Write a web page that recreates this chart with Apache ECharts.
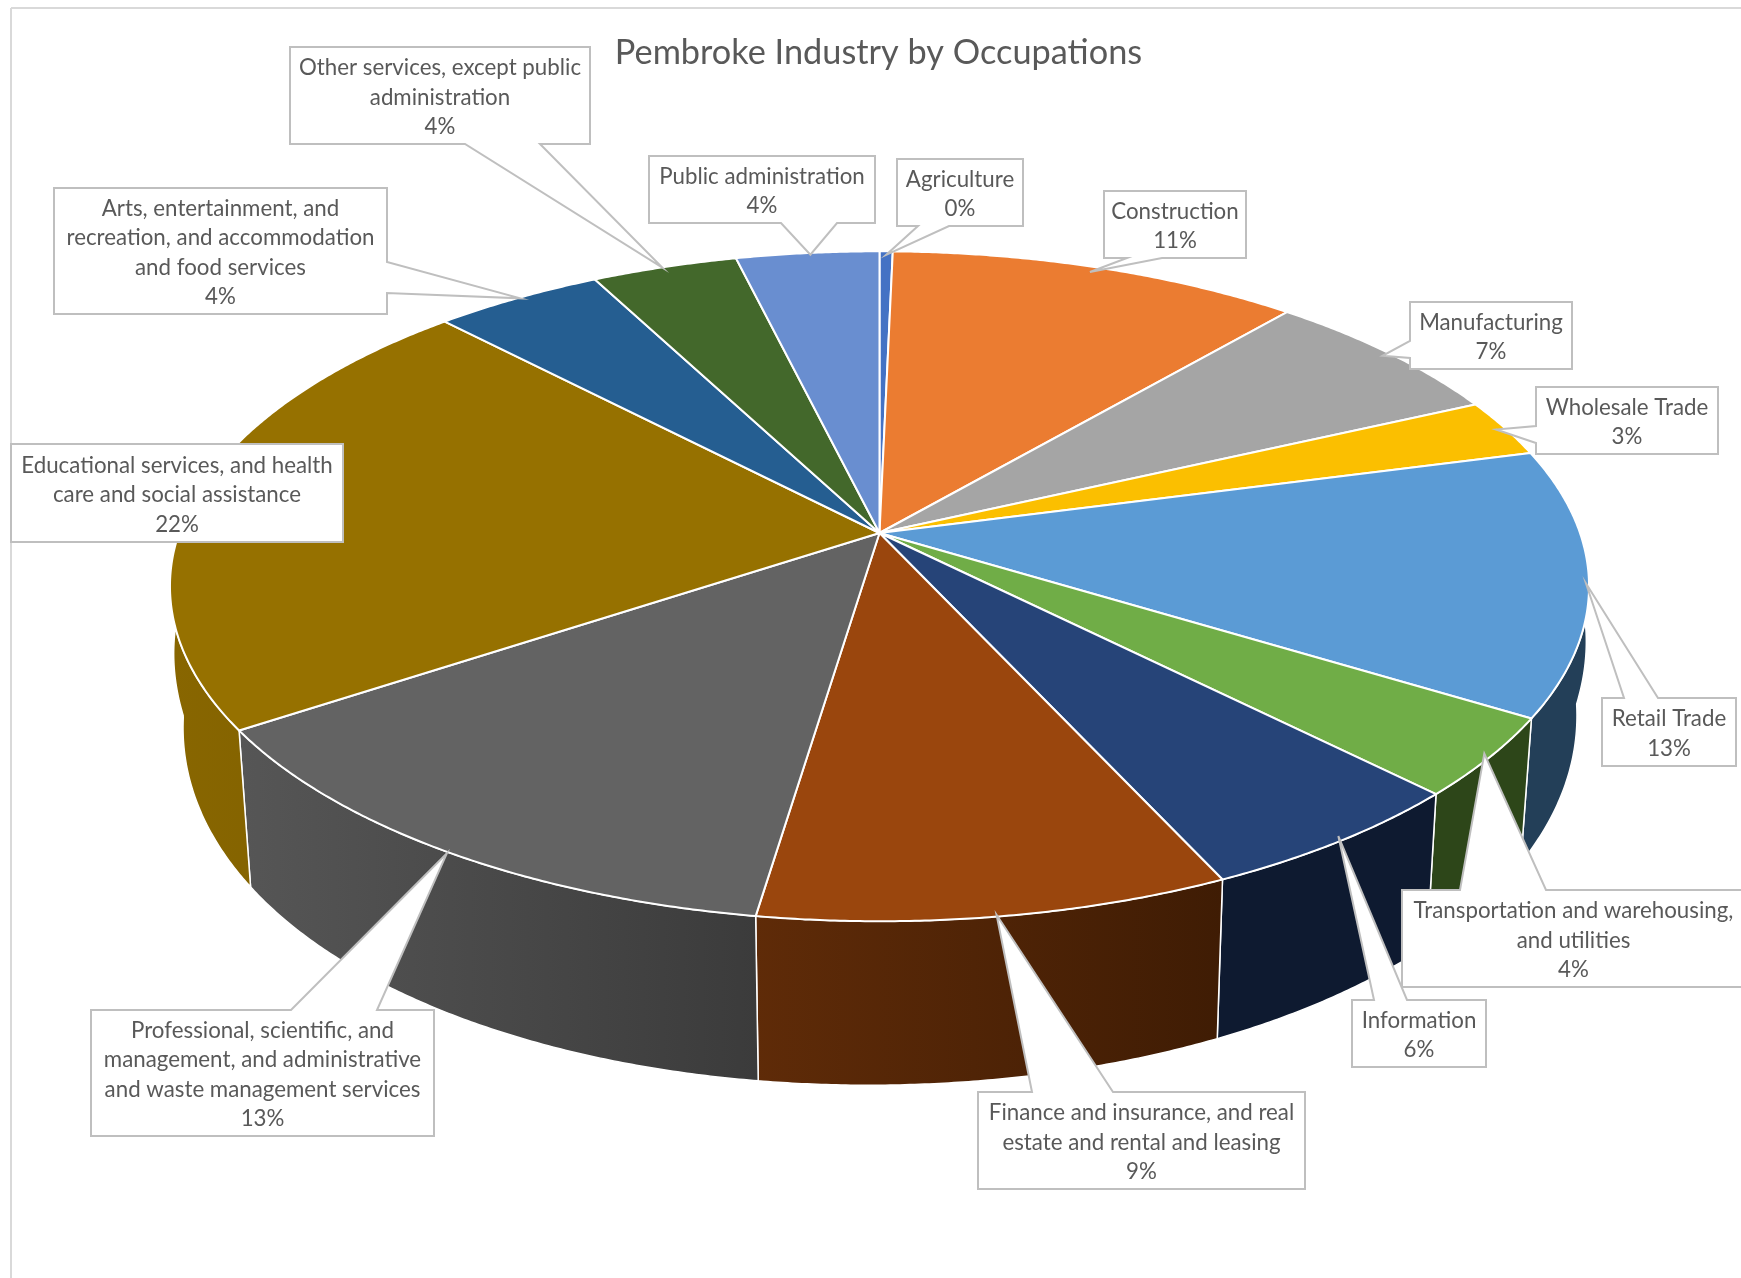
<!DOCTYPE html>
<html>
<head>
<meta charset="utf-8">
<title>Pembroke Industry by Occupations</title>
<style>
  html, body { margin: 0; padding: 0; background: #fff; }
  #chart { width: 1741px; height: 1278px; }
</style>
<script src="https://cdn.jsdelivr.net/npm/echarts@6/dist/echarts.min.js"></script>
</head>
<body>
<div id="chart"></div>
<script>
// Category names, with the line breaks used inside each callout.
const categories = [
  'Agriculture',
  'Construction',
  'Manufacturing',
  'Wholesale Trade',
  'Retail Trade',
  'Transportation and warehousing,\nand utilities',
  'Information',
  'Finance and insurance, and real\nestate and rental and leasing',
  'Professional, scientific, and\nmanagement, and administrative\nand waste management services',
  'Educational services, and health\ncare and social assistance',
  'Arts, entertainment, and\nrecreation, and accommodation\nand food services',
  'Other services, except public\nadministration',
  'Public administration'
];

// Share of employment per industry, in percent.
const shares = [0.35, 10.95, 6.8, 2.8, 12.82, 3.83, 5.57, 9.26, 13.32, 22.14, 4.49, 3.87, 3.8];

const topColors = ['#4472C4', '#EB7C31', '#A5A5A5', '#FBBF00', '#5B9BD5', '#70AD47', '#264478',
                   '#9A460D', '#636363', '#967100', '#255E91', '#43682B', '#698ED0'];

// Side wall colours, left and right end of each slice's horizontal gradient.
const wallColors = [
  ['#29446F', '#29446F'], ['#8E4B1D', '#8E4B1D'], ['#636363', '#636363'], ['#997300', '#997300'],
  ['#233F58', '#233F58'], ['#2D4619', '#2D4619'], ['#0E1A30', '#0E1A30'],
  ['#5F2B08', '#3F1C04'], ['#565656', '#3B3B3B'], ['#886600', '#7D5E00'],
  ['#16385A', '#16385A'], ['#283E1A', '#283E1A'], ['#3F557C', '#3F557C']
];

// Callout boxes: rectangle, the edge the pointer leaves from and where on that edge it starts and ends.
const calloutBoxes = [
  { box: [897, 159, 1023, 226], edge: 'bottom', base: [918, 949], nudge: [0, 0] },
  { box: [1104, 191, 1246, 258], edge: 'bottom', base: [1127, 1162], nudge: [-5, 1] },
  { box: [1410, 302, 1572, 369], edge: 'left', base: [341, 358], nudge: [0, 0] },
  { box: [1536, 387, 1718, 454], edge: 'left', base: [426, 443], nudge: [0, 0] },
  { box: [1602, 698, 1736, 766], edge: 'top', base: [1624, 1658], nudge: [8, 3] },
  { box: [1402, 890, 1745, 987], edge: 'top', base: [1460, 1546], nudge: [5, 0] },
  { box: [1352, 1000, 1486, 1067], edge: 'top', base: [1374, 1407], nudge: [7, 0] },
  { box: [978, 1092, 1305, 1189], edge: 'top', base: [1032, 1113], nudge: [2, 5] },
  { box: [91, 1010, 434, 1136], edge: 'top', base: [291, 377], nudge: [-5, 8] },
  { box: [11, 444, 343, 542], edge: null, base: null, nudge: [0, 0] },
  { box: [54, 188, 387, 314], edge: 'right', base: [262, 293], nudge: [-2, -3] },
  { box: [290, 47, 590, 144], edge: 'bottom', base: [465, 540], nudge: [-5, -3] },
  { box: [649, 156, 875, 223], edge: 'bottom', base: [781, 837], nudge: [2, -2] }
];

// Perspective of the tilted pie: upper face and lower face of the disc.
// "flare" widens the lower face towards the back so the wall reaches the rim's widest point.
const upperFace = { cx: 879.5, cy: 533, a: 700.5, b: 326.5, k: 0.159 };
const lowerFace = { cx: 880, cy: 660.5, a: 688, b: 375, kx: 0.16, ky: 0.117, skew: -6, flare: 0.2, flareFrom: 0.13 };

const total = shares.reduce((s, v) => s + v, 0);
const sweep = v => v / total * 2 * Math.PI;
const startAngle = i => shares.slice(0, i).reduce((s, v) => s + sweep(v), 0);

// Angles run clockwise from twelve o'clock.
function upperPoint(theta, r) {
  const x = Math.sin(theta) * (r === undefined ? 1 : r);
  const y = -Math.cos(theta) * (r === undefined ? 1 : r);
  const w = 1 - upperFace.k * y;
  return [upperFace.cx + upperFace.a * x / w, upperFace.cy + upperFace.b * y / w];
}
function lowerPoint(theta) {
  const x = Math.sin(theta), y = -Math.cos(theta);
  const widen = 1 + lowerFace.flare * Math.max(0, lowerFace.flareFrom - y);
  return [
    lowerFace.cx + widen * lowerFace.a * x / (1 - lowerFace.kx * y),
    lowerFace.cy + (lowerFace.b * y + lowerFace.skew * x) / (1 - lowerFace.ky * y)
  ];
}
function arc(fn, a0, a1) {
  const n = Math.max(2, Math.ceil(Math.abs(a1 - a0) / 0.006));
  const pts = [];
  for (let i = 0; i <= n; i++) pts.push(fn(a0 + (a1 - a0) * i / n));
  return pts;
}

function renderWall(params, api) {
  const i = params.dataIndex;
  const a0 = startAngle(i), a1 = a0 + sweep(api.value(0));
  const points = arc(upperPoint, a0, a1).concat(arc(lowerPoint, a1, a0));
  return {
    type: 'polygon',
    shape: { points },
    style: {
      fill: new echarts.graphic.LinearGradient(0, 0, 1, 0, [
        { offset: 0, color: wallColors[i][0] },
        { offset: 1, color: wallColors[i][1] }
      ]),
      stroke: '#ffffff',
      lineWidth: 1.5
    }
  };
}

function renderTop(params, api) {
  const i = params.dataIndex;
  const a0 = startAngle(i), a1 = a0 + sweep(api.value(0));
  const points = [[upperFace.cx, upperFace.cy]].concat(arc(upperPoint, a0, a1));
  return {
    type: 'polygon',
    shape: { points },
    style: { fill: topColors[i], stroke: '#ffffff', lineWidth: 2, lineJoin: 'round' }
  };
}

// Rectangle with a wedge pointing at the rim in the middle of the slice.
function calloutOutline(c, tip) {
  const [x1, y1, x2, y2] = c.box;
  const pts = [[x1, y1]];
  if (c.edge === 'top') pts.push([c.base[0], y1], tip, [c.base[1], y1]);
  pts.push([x2, y1]);
  if (c.edge === 'right') pts.push([x2, c.base[0]], tip, [x2, c.base[1]]);
  pts.push([x2, y2]);
  if (c.edge === 'bottom') pts.push([c.base[1], y2], tip, [c.base[0], y2]);
  pts.push([x1, y2]);
  if (c.edge === 'left') pts.push([x1, c.base[1]], tip, [x1, c.base[0]]);
  return pts;
}

function renderCallout(params, api) {
  const i = params.dataIndex;
  const value = api.value(0);
  const c = calloutBoxes[i];
  const mid = startAngle(i) + sweep(value) / 2;
  const rim = upperPoint(mid, 0.985);
  const tip = [rim[0] + c.nudge[0], rim[1] + c.nudge[1]];
  const percent = Math.round(value / total * 100) + '%';
  return {
    type: 'group',
    children: [
      {
        type: 'polygon',
        shape: { points: calloutOutline(c, tip) },
        style: { fill: '#ffffff', stroke: '#bfbfbf', lineWidth: 2 }
      },
      {
        type: 'text',
        style: {
          text: categories[i] + '\n' + percent,
          x: (c.box[0] + c.box[2]) / 2,
          y: (c.box[1] + c.box[3]) / 2 + 2,
          align: 'center',
          verticalAlign: 'middle',
          fill: '#595959',
          font: '22.3px Lato',
          lineHeight: 29.4
        }
      }
    ]
  };
}

const seriesData = shares.map(v => [v]);
const chart = echarts.init(document.getElementById('chart'));
chart.setOption({
  animation: false,
  backgroundColor: '#ffffff',
  title: {
    text: 'Pembroke Industry by Occupations',
    left: 873.5,
    top: 31,
    textAlign: 'center',
    textStyle: { fontFamily: 'Lato', fontSize: 34.3, fontWeight: 'normal', color: '#595959' }
  },
  graphic: [
    { type: 'line', shape: { x1: 11, y1: 8, x2: 1741, y2: 8 }, style: { stroke: '#d9d9d9', lineWidth: 2 } },
    { type: 'line', shape: { x1: 11, y1: 8, x2: 11, y2: 1278 }, style: { stroke: '#d9d9d9', lineWidth: 2 } }
  ],
  series: [
    { type: 'custom', name: 'Walls', coordinateSystem: 'none', z: 2, data: seriesData, renderItem: renderWall, silent: true },
    { type: 'custom', name: 'Slices', coordinateSystem: 'none', z: 3, data: seriesData, renderItem: renderTop, silent: true },
    { type: 'custom', name: 'Callouts', coordinateSystem: 'none', z: 4, data: seriesData, renderItem: renderCallout, silent: true }
  ]
});
</script>
</body>
</html>
